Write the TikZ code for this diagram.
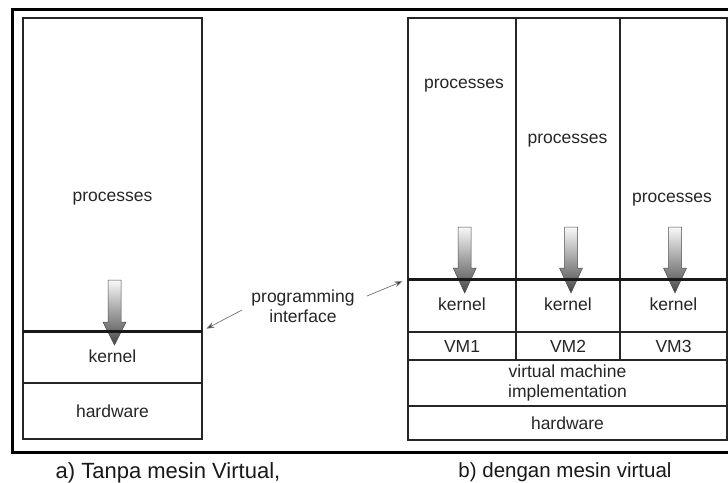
\documentclass[tikz,border=0pt]{standalone}
\usepackage{fontspec}
\setmainfont{Liberation Sans}
\usetikzlibrary{arrows.meta,calc}
\newcommand\shadedarrow[4]{% center x, top y, head base y, tip y
  \path[darrow] (#1-6.5,#2) -- (#1+6.5,#2) -- (#1+6.5,#3) -- (#1+11.5,#3)
    -- (#1,#4) -- (#1-11.5,#3) -- (#1-6.5,#3) -- cycle;}
\begin{document}
\begin{tikzpicture}[x=1pt,y=-1pt,
  cell/.style={draw=black!85, line width=1.1pt, anchor=north west, inner sep=0pt,
    outer sep=0pt, font=\fontsize{17.5}{20.5}\selectfont, text=black!85, align=center},
  kerncell/.style={cell, text height=1.02em, text depth=0pt},
  lbl/.style={font=\fontsize{17.5}{20.5}\selectfont, text=black!85, align=center, inner sep=0pt},
  iface/.style={line width=3pt, black!90},
  frame/.style={line width=3pt, black},
  ptr/.style={draw=black!55, line width=0.7pt, -{Stealth[length=8pt,width=6pt,fill=black!85]}},
  darrow/.style={top color=gray!5, bottom color=gray!55!black, draw=gray!60!black, line width=0.5pt},
  captext/.style={text=black!90, inner sep=0pt, anchor=base}
]
\useasboundingbox (0,0) rectangle (728,482);
\fill[white] (0,0) rectangle (728,482);
\draw[frame] (12,9) rectangle (760,452);

% ---- left: without virtual machine
\node[cell, minimum width=179pt, minimum height=313pt] (procL) at (23,18) {};
\node[kerncell, minimum width=179pt, minimum height=52pt] (kernL) at (23,331) {kernel};
\node[cell, minimum width=179pt, minimum height=56pt] (hwL) at (23,383) {hardware};
\node[lbl, anchor=base] (pL) at (112.5,201) {processes};
\shadedarrow{114.5}{280}{322}{345}
\draw[iface] (procL.south west) -- (procL.south east);

% ---- right: with virtual machines
\node[cell, minimum width=108pt, minimum height=261pt] (proc1) at (408,18) {};
\node[cell, minimum width=104pt, minimum height=261pt] (proc2) at (516,18) {};
\node[cell, minimum width=107pt, minimum height=261pt] (proc3) at (620,18) {};
\node[kerncell, minimum width=108pt, minimum height=53pt] (kern1) at (408,279) {kernel};
\node[kerncell, minimum width=104pt, minimum height=53pt] (kern2) at (516,279) {kernel};
\node[kerncell, minimum width=107pt, minimum height=53pt] (kern3) at (620,279) {kernel};
\node[cell, minimum width=108pt, minimum height=28pt] (vm1) at (408,332) {VM1};
\node[cell, minimum width=104pt, minimum height=28pt] (vm2) at (516,332) {VM2};
\node[cell, minimum width=107pt, minimum height=28pt] (vm3) at (620,332) {VM3};
\node[cell, minimum width=319pt, minimum height=46pt] (vmm) at (408,360) {virtual machine\\implementation};
\node[cell, minimum width=319pt, minimum height=34pt] (hwR) at (408,406) {hardware};
\node[lbl, anchor=base] (p1) at (464,88) {processes};
\node[lbl, anchor=base] (p2) at (567.5,143) {processes};
\node[lbl, anchor=base] (p3) at (672,202) {processes};
\shadedarrow{464.7}{227}{268}{293}
\shadedarrow{571}{227}{268}{293}
\shadedarrow{675}{227}{268}{293}
\draw[iface] (proc1.south west) -- (proc3.south east);

% ---- programming interface
\node[lbl] (pi) at (303,306) {programming\\interface};
\coordinate (pa) at (242,310);
\coordinate (pb) at (367,296);
\draw[ptr, shorten >=5pt] (pa) -- (procL.south east);
\draw[ptr, shorten >=6pt] (pb) -- (proc1.south west);

% ---- captions
\node[captext, font=\fontsize{22}{26}\selectfont] (ca) at (168,478) {a) Tanpa mesin Virtual,};
\node[captext, font=\fontsize{20.5}{24}\selectfont] (cb) at (565,477) {b) dengan mesin virtual};
\end{tikzpicture}
\end{document}
